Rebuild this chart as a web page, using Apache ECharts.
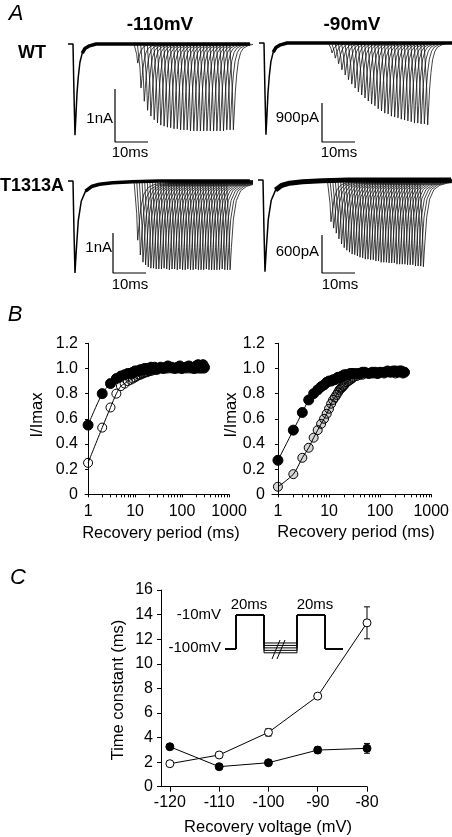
<!DOCTYPE html>
<html><head><meta charset="utf-8">
<script src="https://cdn.jsdelivr.net/npm/echarts@6/dist/echarts.min.js"></script>
<style>html,body{margin:0;padding:0;background:#fff}#c{width:452px;height:837px}</style>
</head><body><div id="c"></div>
<script>
// ================= DATA =================
// Panel A: current traces (nA). Recovery intervals (ms) of the overlaid sweeps
const sweepIntervalsWT = [1,2,3,4,5,6,7,8,9,10,11,12,13,14,15,16,17,18,19,20,21,22,23,24,25,26,27,28,29,30];
const sweepIntervalsMut = [1,1.8,2.6,3.4,4.2,5,5.8,6.6,7.4,8.2,9,9.8,10.6,11.4,12.2,13,13.8,14.6,15.4,16.2,17,17.8,18.6,19.4,20.2,21,21.8,22.6,23.4,24.2,25,25.8,26.6,27.4,28.2,29];
// peak test-pulse amplitude of each sweep (nA)
const peaksWT110 = [0.36,0.83,1.08,1.25,1.36,1.43,1.49,1.53,1.55,1.57,1.58,1.60,1.60,1.62,1.62,1.62,1.64,1.64,1.64,1.64,1.64,1.64,1.64,1.64,1.64,1.64,1.64,1.62,1.62,1.62];
const peaksWT90 = [0.23,0.35,0.48,0.62,0.74,0.85,0.95,1.04,1.13,1.20,1.27,1.34,1.41,1.45,1.52,1.57,1.62,1.64,1.69,1.71,1.73,1.76,1.78,1.80,1.82,1.85,1.85,1.87,1.87,1.89];
const peaksMut110 = [1.48,1.85,2.03,2.10,2.15,2.18,2.18,2.20,2.20,2.20,2.18,2.20,2.22,2.20,2.20,2.22,2.20,2.22,2.22,2.20,2.22,2.22,2.20,2.22,2.22,2.22,2.20,2.22,2.22,2.22,2.22,2.22,2.20,2.22,2.22,2.22];
const peaksMut90 = [0.66,0.76,0.84,0.93,1.01,1.07,1.11,1.14,1.17,1.18,1.20,1.22,1.23,1.25,1.25,1.26,1.26,1.28,1.28,1.30,1.30,1.30,1.31,1.31,1.31,1.33,1.33,1.33,1.33,1.34,1.34,1.34,1.36,1.36,1.36,1.37];
// conditioning-pulse peak (nA)
const prePeaks = [1.72, 2.12, 2.3, 1.45];
// conditioning pulse duration before recovery interval (ms)
const prePulseDur = [18, 19, 18, 19];
// normalized current waveform shape (time from pulse onset in ms, relative amplitude)
const shapeWT_t = [0, 0.3, 0.6, 0.9, 1.2, 1.6, 2.1, 2.8, 3.6, 5, 7];
const shapeWT_v = [0, -0.55, -1, -0.78, -0.55, -0.36, -0.2, -0.1, -0.05, -0.02, 0];
const shapeMut_t = [0, 0.3, 0.6, 1, 1.6, 2.5, 3.8, 5.6, 8, 12, 18, 26];
const shapeMut_v = [0, -0.55, -1, -0.75, -0.43, -0.22, -0.11, -0.06, -0.035, -0.02, -0.008, 0];
// scale bars
const scaleBarNA = [1, 0.9, 1, 0.6];
const scaleBarLabels = ['1nA', '900pA', '1nA', '600pA'];
const scaleBarMs = 10;
const traceEndMs = [53.6, 57, 53.6, 57];

// Panel B: recovery period (ms) and normalized current
const recoveryPeriods = [1,2,3,4,5,6,7,8,9,10,11,12,13,14,15,16,17,18,19,20,22,24,26,28,30,35,40,45,50,60,70,80,90,100,120,140,160,180,200,220,240,260,280,300];
const leftFilled = [0.55,0.80,0.88,0.92,0.94,0.95,0.96,0.96,0.97,0.98,0.98,0.98,0.99,0.99,0.99,1.00,0.99,1.00,1.00,1.00,1.01,1.00,1.01,1.00,1.00,1.01,1.00,1.01,1.02,1.01,1.00,1.01,1.02,1.00,1.01,1.02,1.01,1.00,1.02,1.03,1.01,1.02,1.03,1.01];
const leftOpen = [0.25,0.53,0.69,0.80,0.86,0.88,0.90,0.91,0.92,0.93,0.94,0.95,0.95,0.96,0.96,0.97,0.97,0.97,0.98,0.98,0.98,0.99,0.99,0.99,0.99,1.00,1.00,1.00,1.00,1.00,1.00,1.00,1.00,1.00,1.00,1.00,1.00,1.00,1.00,1.00,1.00,1.00,1.00,1.00];
const rightFilled = [0.27,0.51,0.65,0.75,0.80,0.83,0.855,0.87,0.89,0.90,0.90,0.91,0.91,0.92,0.93,0.93,0.93,0.94,0.94,0.95,0.95,0.95,0.96,0.96,0.96,0.96,0.96,0.97,0.97,0.96,0.97,0.97,0.96,0.97,0.97,0.98,0.97,0.98,0.98,0.97,0.98,0.98,0.97,0.97];
const rightOpen = [0.06,0.16,0.29,0.37,0.45,0.51,0.56,0.60,0.64,0.68,0.72,0.75,0.77,0.79,0.81,0.83,0.84,0.85,0.86,0.87,0.89,0.90,0.91,0.92,0.93,0.94,0.95,0.95,0.96,0.96,0.96,0.96,0.96,0.97,0.96,0.97,0.97,0.97,0.96,0.97,0.97,0.97,0.96,0.97];
const bXLabels = [1, 10, 100, 1000];

// Panel C: time constants (ms) vs recovery voltage (mV)
const recoveryVoltages = [-120, -110, -100, -90, -80];
const tauOpen = [1.87, 2.58, 4.42, 7.37, 13.33];
const errOpen = [0.1, 0.1, 0.3, 0.15, 1.3];
const tauFilled = [3.25, 1.63, 1.95, 2.98, 3.12];
const errFilled = [0.15, 0.1, 0.1, 0.25, 0.4];

// Protocol inset (ms, mV)
const protoHoldV = -100;
const protoStepV = -10;
const protoStepDur = 20;
const protoRecoveryLevels = [-84, -90.5, -97, -103.5, -110];

// ================= LAYOUT =================
const FONT = '"Liberation Sans", Arial, Helvetica, sans-serif';
const TICKFS = 16, TITLEFS = 16.5;
const traceLayout = [
  {left:66, right:252, top:26, bottom:150, x0:73, y0:44, pxMs:3.3, pxNA:53, sbX:115, sbY:142},
  {left:257, right:452, top:26, bottom:150, x0:264, y0:43, pxMs:3.3, pxNA:43.3, sbX:322, sbY:142},
  {left:66, right:252, top:163, bottom:282, x0:73, y0:181, pxMs:3.3, pxNA:40, sbX:113, sbY:273},
  {left:256, right:452, top:163, bottom:282, x0:263, y0:180, pxMs:3.3, pxNA:63.3, sbX:322, sbY:273}
];
const traceSets = [
  {peaks: peaksWT110, intervals: sweepIntervalsWT, st: shapeWT_t, sv: shapeWT_v, band: 3.5},
  {peaks: peaksWT90, intervals: sweepIntervalsWT, st: shapeWT_t, sv: shapeWT_v, band: 3.5},
  {peaks: peaksMut110, intervals: sweepIntervalsMut, st: shapeMut_t, sv: shapeMut_v, band: 3.5},
  {peaks: peaksMut90, intervals: sweepIntervalsMut, st: shapeMut_t, sv: shapeMut_v, band: 5}
];

const grid = [], xAxis = [], yAxis = [], series = [];
const noAxis = {show:false, splitLine:{show:false}};

traceLayout.forEach((L, p) => {
  const S = traceSets[p];
  const tOf = px => (px - L.x0) / L.pxMs;
  const iOf = py => -(py - L.y0) / L.pxNA;
  grid.push({left:L.left, top:L.top, width:L.right-L.left, height:L.bottom-L.top});
  xAxis.push(Object.assign({gridIndex:p, type:'value', min:tOf(L.left), max:tOf(L.right)}, noAxis));
  yAxis.push(Object.assign({gridIndex:p, type:'value', min:iOf(L.bottom), max:iOf(L.top)}, noAxis));
  // sweeps (test pulses)
  S.intervals.forEach((r, k) => {
    const onset = prePulseDur[p] + r;
    const d = [[onset - 0.5, 0]];
    S.st.forEach((t, j) => d.push([onset + t, S.peaks[k] * S.sv[j]]));
    series.push({type:'line', xAxisIndex:p, yAxisIndex:p, data:d, showSymbol:false, symbol:'none',
      lineStyle:{color:'#111', width:0.8}, silent:true, z:2});
  });
  // conditioning pulse + baseline
  const pre = [[tOf(L.left + 2), 0]];
  S.st.forEach((t, j) => pre.push([t, prePeaks[p] * S.sv[j]]));
  pre.push([traceEndMs[p], 0]);
  series.push({type:'line', xAxisIndex:p, yAxisIndex:p, data:pre, symbol:'none',
    lineStyle:{color:'#000', width:1.5}, silent:true, z:3});
  const band = pre.filter(q => q[0] >= 2.6);
  series.push({type:'line', xAxisIndex:p, yAxisIndex:p, data:band, symbol:'none',
    lineStyle:{color:'#000', width:S.band}, silent:true, z:3});
  // scale bar
  const tx = tOf(L.sbX), iy = iOf(L.sbY);
  series.push({type:'line', xAxisIndex:p, yAxisIndex:p, symbol:'none',
    data:[[tx, iy + scaleBarNA[p]], [tx, iy], [tx + scaleBarMs, iy]],
    lineStyle:{color:'#000', width:1.2}, silent:true, z:4});
});

// ----- Panel B -----
const log10 = Math.log10;
const minorTicks = [];
[1, 10, 100].forEach(d => { for (let k = 1; k <= 9; k++) minorTicks.push(log10(k * d)); });
minorTicks.push(3);
const bPanels = [
  {left:85, width:144, xmin:log10(0.86), filled:leftFilled, open:leftOpen, openFill:'rgba(0,0,0,0)'},
  {left:272, width:161, xmin:log10(0.765), filled:rightFilled, open:rightOpen, openFill:'rgba(0,0,0,0.16)'}
];
bPanels.forEach((B, b) => {
  const gi = grid.length;
  grid.push({left:B.left, top:343.3, width:B.width, height:151});
  xAxis.push({gridIndex:gi, type:'value', min:B.xmin, max:3,
    axisLine:{show:true, onZero:false, lineStyle:{color:'#000', width:1}},
    axisTick:{show:true, length:3, customValues:minorTicks, lineStyle:{color:'#000'}},
    axisLabel:{customValues:bXLabels.map(log10), formatter:v => String(Math.round(Math.pow(10, v))),
      color:'#000', fontFamily:FONT, fontSize:TICKFS, margin:9},
    splitLine:{show:false}});
  yAxis.push({gridIndex:gi, type:'value', min:0, max:1.2, interval:0.2,
    axisLine:{show:true, lineStyle:{color:'#000', width:1}},
    axisTick:{show:true, length:3, lineStyle:{color:'#000'}},
    axisLabel:{formatter:v => v === 0 ? '0' : v.toFixed(1), color:'#000', fontFamily:FONT, fontSize:TICKFS, margin:7},
    splitLine:{show:false}});
  series.push({type:'line', xAxisIndex:gi, yAxisIndex:gi, smooth:0.3,
    data:recoveryPeriods.map((t, i) => [log10(t), B.filled[i]]),
    symbol:'circle', symbolSize:10, itemStyle:{color:'#000', borderColor:'#000'},
    lineStyle:{color:'#000', width:1}, silent:true, z:3});
  series.push({type:'line', xAxisIndex:gi, yAxisIndex:gi, smooth:0.3,
    data:recoveryPeriods.map((t, i) => [log10(t), B.open[i]]),
    symbol:'circle', symbolSize:9, itemStyle:{color:B.openFill, borderColor:'#000', borderWidth:1},
    lineStyle:{color:'#000', width:1}, silent:true, z:4});
});

// ----- Panel C -----
const gC = grid.length;
grid.push({left:161, top:590, width:206, height:196.7});
xAxis.push({gridIndex:gC, type:'value', min:-121.8, max:-80,
  axisLine:{show:true, onZero:false, lineStyle:{color:'#000'}},
  axisTick:{show:true, length:5, customValues:recoveryVoltages, lineStyle:{color:'#000'}},
  axisLabel:{customValues:recoveryVoltages, color:'#000', fontFamily:FONT, fontSize:TICKFS, margin:8},
  splitLine:{show:false}});
yAxis.push({gridIndex:gC, type:'value', min:0, max:16, interval:2,
  axisLine:{show:true, lineStyle:{color:'#000'}},
  axisTick:{show:true, length:4, lineStyle:{color:'#000'}},
  axisLabel:{color:'#000', fontFamily:FONT, fontSize:TICKFS, margin:8},
  splitLine:{show:false}});
const errRender = (params, api) => {
  const x = api.value(0), y = api.value(1), e = api.value(2);
  const a = api.coord([x, y + e]), c = api.coord([x, y - e]);
  const w = 3, st = {stroke:'#000', lineWidth:1};
  return {type:'group', children:[
    {type:'line', shape:{x1:a[0], y1:a[1], x2:c[0], y2:c[1]}, style:st},
    {type:'line', shape:{x1:a[0]-w, y1:a[1], x2:a[0]+w, y2:a[1]}, style:st},
    {type:'line', shape:{x1:c[0]-w, y1:c[1], x2:c[0]+w, y2:c[1]}, style:st}
  ]};
};
[[tauOpen, errOpen], [tauFilled, errFilled]].forEach(([tau, err]) => {
  series.push({type:'custom', xAxisIndex:gC, yAxisIndex:gC, renderItem:errRender,
    data:recoveryVoltages.map((v, i) => [v, tau[i], err[i]]), encode:{x:0, y:1}, silent:true, z:2});
});
series.push({type:'line', xAxisIndex:gC, yAxisIndex:gC, data:recoveryVoltages.map((v, i) => [v, tauOpen[i]]),
  symbol:'circle', symbolSize:8, itemStyle:{color:'#fff', borderColor:'#000', borderWidth:1},
  lineStyle:{color:'#000', width:1}, silent:true, z:3});
series.push({type:'line', xAxisIndex:gC, yAxisIndex:gC, data:recoveryVoltages.map((v, i) => [v, tauFilled[i]]),
  symbol:'circle', symbolSize:8, itemStyle:{color:'#000', borderColor:'#000'},
  lineStyle:{color:'#000', width:1}, silent:true, z:3});

// ----- Protocol inset -----
const gP = grid.length;
const P = {left:225, right:343, top:598, bottom:666, x0:236, y0:615, pxMs:1.4, pxMV:0.378};
const ptOf = px => (px - P.x0) / P.pxMs;
const pvOf = py => protoStepV - (py - P.y0) / P.pxMV;
grid.push({left:P.left, top:P.top, width:P.right-P.left, height:P.bottom-P.top});
xAxis.push(Object.assign({gridIndex:gP, type:'value', min:ptOf(P.left), max:ptOf(P.right)}, noAxis));
yAxis.push(Object.assign({gridIndex:gP, type:'value', min:pvOf(P.bottom), max:pvOf(P.top)}, noAxis));
const tStart = ptOf(P.left), tEnd = ptOf(P.right);
const tRec2 = ptOf(297);
protoRecoveryLevels.forEach(rv => {
  series.push({type:'line', xAxisIndex:gP, yAxisIndex:gP, symbol:'none', silent:true,
    lineStyle:{color:'#000', width:1},
    data:[[tStart, protoHoldV], [0, protoHoldV], [0, protoStepV], [protoStepDur, protoStepV], [protoStepDur, rv],
      [tRec2, rv], [tRec2, protoStepV], [tRec2 + protoStepDur, protoStepV], [tRec2 + protoStepDur, protoHoldV], [tEnd, protoHoldV]]});
});
[[272, 280], [277, 285]].forEach(([xa, xb]) => {
  series.push({type:'line', xAxisIndex:gP, yAxisIndex:gP, symbol:'none', silent:true,
    lineStyle:{color:'#000', width:1}, data:[[ptOf(xa), pvOf(659)], [ptOf(xb), pvOf(640)]]});
});

// ----- Text -----
const txt = (x, y, s, o) => Object.assign({type:'text', x:x, y:y, silent:true,
  style:Object.assign({text:s, fill:'#000', font:'15px ' + FONT, textAlign:'center', textVerticalAlign:'middle'}, o || {})});
const TF = TITLEFS + 'px ' + FONT;
const graphic = [
  txt(16, 14, 'A', {font:'italic 22px ' + FONT}),
  txt(15, 315, 'B', {font:'italic 22px ' + FONT}),
  txt(18, 578, 'C', {font:'italic 22px ' + FONT}),
  txt(160, 25, '-110mV', {font:'bold 19px ' + FONT}),
  txt(352, 25, '-90mV', {font:'bold 19px ' + FONT}),
  txt(18, 53, 'WT', {font:'bold 18px ' + FONT, textAlign:'left'}),
  txt(0, 186, 'T1313A', {font:'bold 18px ' + FONT, textAlign:'left'}),
  txt(113, 119, scaleBarLabels[0], {textAlign:'right'}),
  txt(130, 153, scaleBarMs + 'ms'),
  txt(319, 118, scaleBarLabels[1], {textAlign:'right'}),
  txt(339, 153, scaleBarMs + 'ms'),
  txt(112, 248, scaleBarLabels[2], {textAlign:'right'}),
  txt(130, 285, scaleBarMs + 'ms'),
  txt(319, 252, scaleBarLabels[3], {textAlign:'right'}),
  txt(340, 285, scaleBarMs + 'ms'),
  Object.assign(txt(37, 415, 'I/Imax', {font:TF}), {rotation:Math.PI/2}),
  Object.assign(txt(231, 415, 'I/Imax', {font:TF}), {rotation:Math.PI/2}),
  txt(161, 533, 'Recovery period (ms)', {font:TF}),
  txt(356, 532, 'Recovery period (ms)', {font:TF}),
  Object.assign(txt(118, 690, 'Time constant (ms)', {font:TF}), {rotation:Math.PI/2}),
  txt(268, 827, 'Recovery voltage (mV)', {font:TF}),
  txt(221, 615, '-10mV', {textAlign:'right'}),
  txt(221, 648, '-100mV', {textAlign:'right'}),
  txt(249, 605, protoStepDur + 'ms'),
  txt(315, 605, protoStepDur + 'ms')
];

const chart = echarts.init(document.getElementById('c'), null, {renderer:'canvas'});
chart.setOption({animation:false, backgroundColor:'#fff', grid, xAxis, yAxis, series, graphic});
</script></body></html>
